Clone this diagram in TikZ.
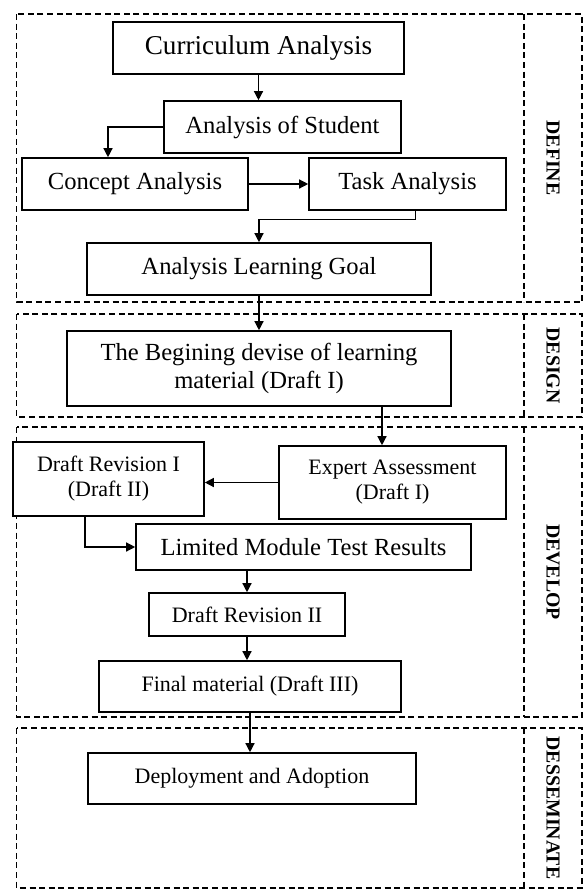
\documentclass[tikz,border=0pt]{standalone}
\usepackage{fontspec}
\setmainfont{Liberation Serif}
\usetikzlibrary{arrows.meta}

\tikzset{
  stepbox/.style={draw, fill=white, line width=0.8pt, align=center, inner sep=0pt},
  largetext/.style={font=\fontsize{13.6}{15}\selectfont},
  normaltext/.style={font=\fontsize{12.3}{13.8}\selectfont},
  smalltext/.style={font=\fontsize{11}{12.5}\selectfont},
  phase/.style={rotate=-90, font=\fontsize{9.9}{11}\selectfont\bfseries},
  frame/.style={dash pattern=on 3pt off 1.8pt, line width=0.6pt},
  flow/.style={-{Triangle[length=4.5pt,width=4.5pt]}, line width=0.65pt}
}

\begin{document}
\begin{tikzpicture}[x=0.5pt, y=-0.5pt]
    \useasboundingbox (0,0) rectangle (583,889);

    % Phase frames
    \draw[frame] (16.7,14) rectangle (582,302);
    \draw[frame] (524,14) -- (524,302);
    \draw[frame] (16.7,314) rectangle (582,417);
    \draw[frame] (524,314) -- (524,417);
    \draw[frame] (16.7,427) rectangle (582,717);
    \draw[frame] (524,427) -- (524,717);
    \draw[frame] (16.7,728) rectangle (582,888);
    \draw[frame] (524,728) -- (524,888);

    % Phase names
    \node[phase] (define) at (553,158) {DEFINE};
    \node[phase] (design) at (553,365.5) {DESIGN};
    \node[phase] (develop) at (553,572) {DEVELOP};
    \node[phase] (dessem) at (553,808) {DESSEMINATE};

    % Define
    \node[stepbox, largetext, minimum width=145.5pt, minimum height=26pt] (curr) at (258.5,48) {Curriculum Analysis};
    \node[stepbox, normaltext, minimum width=118.5pt, minimum height=26pt] (student) at (282.5,127) {Analysis of Student};
    \node[stepbox, normaltext, minimum width=113pt, minimum height=26pt] (concept) at (135,184) {Concept Analysis};
    \node[stepbox, normaltext, minimum width=98.5pt, minimum height=26pt] (task) at (407.5,184) {Task Analysis};
    \node[stepbox, normaltext, minimum width=172pt, minimum height=26pt] (goal) at (259,269) {Analysis Learning Goal};

    % Design
    \node[stepbox, normaltext, minimum width=192pt, minimum height=37.5pt] (begin) at (259,368.5) {The Begining devise of learning\\material (Draft I)};

    % Develop
    \node[stepbox, smalltext, minimum width=113.5pt, minimum height=36.5pt] (expert) at (392.5,482.5) {Expert Assessment\\(Draft I)};
    \node[stepbox, smalltext, minimum width=95.5pt, minimum height=37pt] (rev1) at (108.5,479) {Draft Revision I\\(Draft II)};
    \node[stepbox, normaltext, minimum width=167.5pt, minimum height=23pt] (test) at (303.5,547) {Limited Module Test Results};
    \node[stepbox, smalltext, minimum width=98pt, minimum height=21.5pt] (rev2) at (247,614.5) {Draft Revision II};
    \node[stepbox, smalltext, minimum width=151pt, minimum height=25.5pt] (final) at (250,686.5) {Final material (Draft III)};

    % Desseminate
    \node[stepbox, smalltext, minimum width=164pt, minimum height=25.5pt] (deploy) at (252,778.5) {Deployment and Adoption};

    % Bend points
    \coordinate (studentx) at (108,0);
    \coordinate (beginx) at (382,0);
    \coordinate (rev1x) at (85,0);

    % Arrows
    \draw[flow] (curr.south) -- (curr.south |- student.north);
    \draw[flow] (student.west) -| (concept.north -| studentx);
    \draw[flow] (concept.east) -- (concept.east -| task.west);
    \draw[flow] ([xshift=4pt]task.south) -- ++(0,9) -| (goal.north);
    \draw[flow] (goal.south) -- (begin.north);
    \draw[flow] (begin.south -| beginx) -- (expert.north -| beginx);
    \draw[flow] (expert.west) -- (expert.west -| rev1.east);
    \draw[flow] (rev1.south -| rev1x) |- (test.west);
    \draw[flow] (test.south -| rev2.north) -- (rev2.north);
    \draw[flow] (rev2.south) -- (rev2.south |- final.north);
    \draw[flow] (final.south) -- (final.south |- deploy.north);
\end{tikzpicture}
\end{document}
